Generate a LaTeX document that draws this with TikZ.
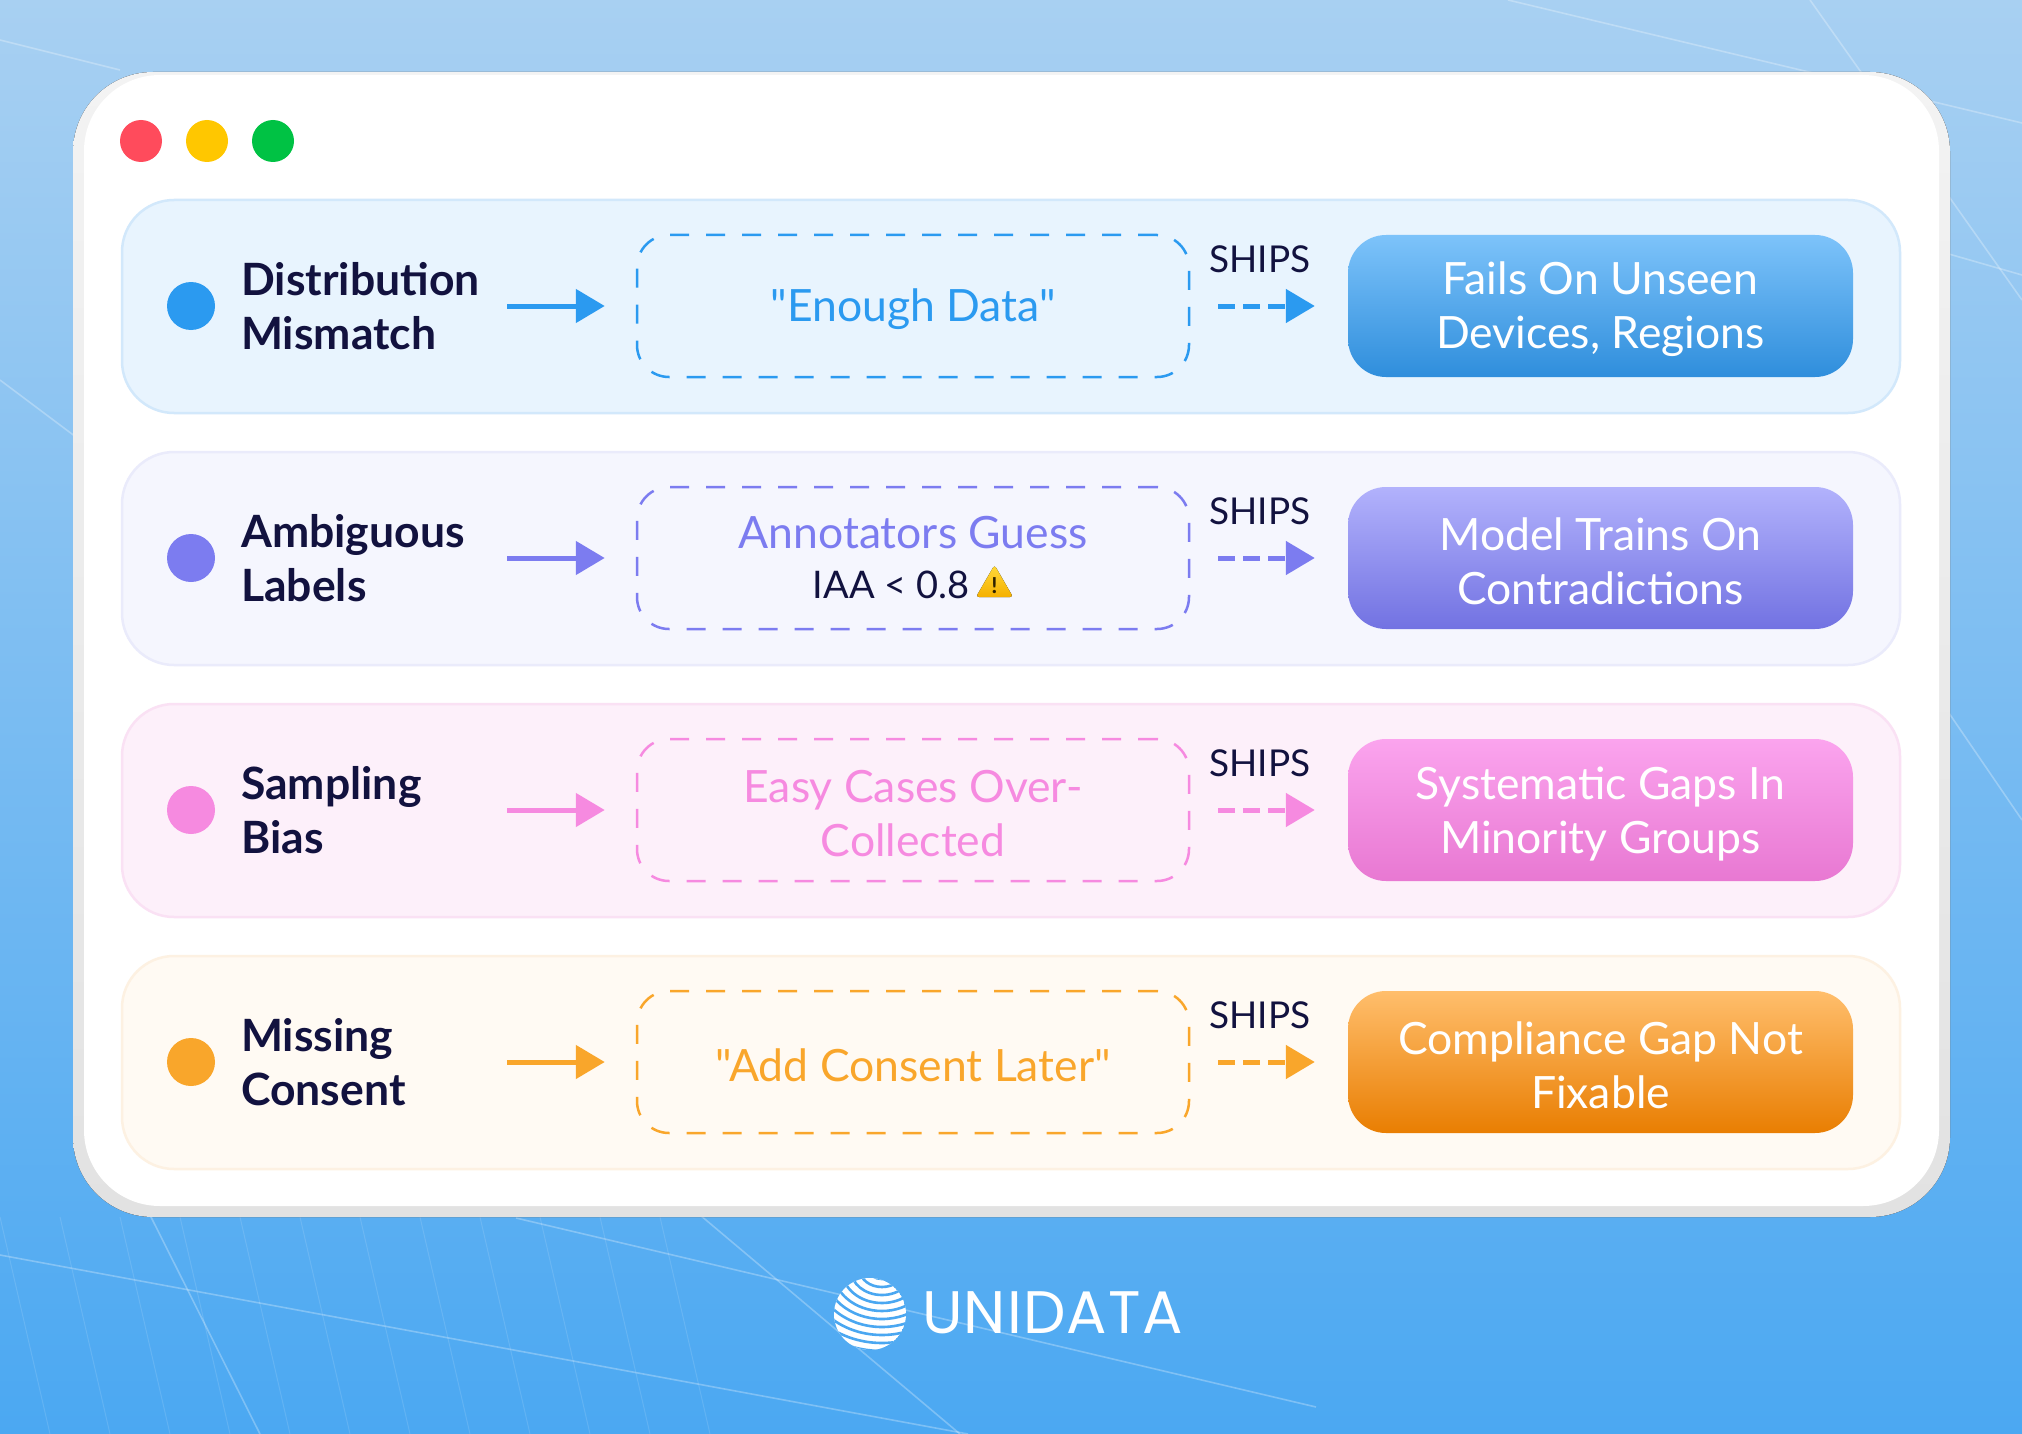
\documentclass[tikz,border=0pt]{standalone}
\usepackage{fontspec}
\setmainfont{Lato}[Ligatures=TeXOff]
\newfontfamily\logofont{Poppins}[LetterSpace=2]
\usetikzlibrary{arrows.meta}
\newcommand\boxstrut{\rule{0pt}{40pt}}
\definecolor{navy}{HTML}{12123F}
\definecolor{cblue}{HTML}{2B9AF0}
\definecolor{cpurple}{HTML}{7C7CF0}
\definecolor{cpink}{HTML}{F68AE0}
\definecolor{corange}{HTML}{F9A62B}
\definecolor{p1fill}{HTML}{E8F4FE}
\definecolor{p1line}{HTML}{D2E8FB}
\definecolor{p2fill}{HTML}{F5F6FE}
\definecolor{p2line}{HTML}{EAEBFB}
\definecolor{p3fill}{HTML}{FDF0FA}
\definecolor{p3line}{HTML}{FAE1F4}
\definecolor{p4fill}{HTML}{FFFAF3}
\definecolor{p4line}{HTML}{FDF1E2}
\definecolor{r1top}{HTML}{7DC3FA}
\definecolor{r1bot}{HTML}{2F8EDC}
\definecolor{r2top}{HTML}{B2B2FC}
\definecolor{r2bot}{HTML}{7272E2}
\definecolor{r3top}{HTML}{FBA4EE}
\definecolor{r3bot}{HTML}{E878D2}
\definecolor{r4top}{HTML}{FFBE6C}
\definecolor{r4bot}{HTML}{E97E02}
\definecolor{bgtop}{HTML}{A8D0F2}
\definecolor{bgbot}{HTML}{4BA8F2}
\definecolor{bglogo}{HTML}{4AA7F1}
\definecolor{rimtop}{HTML}{F3F3F3}
\definecolor{rimbot}{HTML}{E2E2E2}
\definecolor{dred}{HTML}{FF4B5C}
\definecolor{dyellow}{HTML}{FFC700}
\definecolor{dgreen}{HTML}{00C244}
\definecolor{warnT}{HTML}{FFD93B}
\definecolor{warnB}{HTML}{F5B000}
\definecolor{warnX}{HTML}{2E2200}
\begin{document}
\begin{tikzpicture}[x=1pt,y=-1pt,
 panel/.style={rounded corners=52pt, line width=2.5pt, minimum width=1778pt, minimum height=213pt, inner sep=0pt},
 bullet/.style={circle, minimum size=48pt, inner sep=0pt},
 dot/.style={circle, minimum size=42pt, inner sep=0pt},
 lbl/.style={anchor=west, align=left, inner sep=0pt, text=navy, font=\fontsize{44.5}{54}\selectfont\bfseries},
 midbox/.style={rounded corners=32pt, line width=2.5pt, dash pattern=on 19pt off 17pt, minimum width=552pt, minimum height=142pt, align=center, inner sep=0pt, font=\fontsize{44.5}{54}\selectfont},
 outbox/.style={rounded corners=38pt, minimum width=505pt, minimum height=142pt, align=center, inner sep=0pt, text=white, font=\fontsize{44.5}{54}\selectfont},
 ships/.style={text=navy, font=\fontsize{37}{37}\selectfont, inner sep=0pt},
 flow/.style={line width=5pt, -{Triangle[length=29pt,width=33pt]}, shorten >=31pt},
 ship/.style={line width=5pt, dash pattern=on 17pt off 8pt, -{Triangle[length=29pt,width=33pt]}, shorten <=28pt, shorten >=33pt},
 bgline/.style={white, opacity=0.28, line width=1.6pt},
]
\useasboundingbox (0,0) rectangle (2022,1434);
% background
\fill[top color=bgtop, bottom color=bgbot] (0,0) rectangle (2022,1434);
\begin{scope}[bgline]
 \draw (0,1255) -- (968,1434);
 \draw (516,1218) -- (1316,1407);
 \draw (1508,0) -- (2022,123);
 \draw (1810,0) -- (2022,300);
 \draw (1900,240) -- (2022,275);
 \draw (0,380) -- (80,440);
 \draw (0,40) -- (120,70);
 \draw (1940,700) -- (2022,820);
 \draw (150,1215) -- (260,1434);
 \draw (700,1215) -- (960,1434);
\end{scope}
\begin{scope}[white, opacity=0.12, line width=1pt]
 \foreach \s in {0,60,...,660} { \draw (\s,1217) -- (\s+50,1434); }
\end{scope}
% window
\fill[top color=rimtop, bottom color=rimbot, rounded corners=80pt] (73,72) rectangle (1950,1217);
\fill[white, rounded corners=76pt] (84,75) rectangle (1939,1206);
\node[dot, fill=dred] (d1) at (141,141) {};
\node[dot, fill=dyellow] (d2) at (207,141) {};
\node[dot, fill=dgreen] (d3) at (273,141) {};
% row 1
\node[panel, fill=p1fill, draw=p1line] (p1) at (1011,306.5) {};
\node[bullet, fill=cblue] (b1) at (191,306) {};
\node[lbl] (l1) at (241,306) {Distribution\\Mismatch};
\node[midbox, draw=cblue, text=cblue] (m1) at (913,306) {\boxstrut"Enough Data"};
\node[outbox, top color=r1top, bottom color=r1bot] (r1) at (1600.5,306) {\boxstrut Fails On Unseen\\Devices, Regions};
\coordinate (a1) at (507,306);
\draw[flow, cblue] (a1) -- (m1.west);
\draw[ship, cblue] (m1.east) -- (r1.west);
\node[ships] (s1) at (1260,259) {SHIPS};
% row 2
\node[panel, fill=p2fill, draw=p2line] (p2) at (1011,558.5) {};
\node[bullet, fill=cpurple] (b2) at (191,558) {};
\node[lbl] (l2) at (241,558) {Ambiguous\\Labels};
\node[midbox, draw=cpurple, text=cpurple] (m2) at (913,558) {Annotators Guess\\[-4pt]{\color{navy}\fontsize{38}{54}\selectfont IAA < 0.8\hspace*{44pt}}};
\node[outbox, top color=r2top, bottom color=r2bot] (r2) at (1600.5,558) {\boxstrut Model Trains On\\Contradictions};
\coordinate (a2) at (507,558);
\draw[flow, cpurple] (a2) -- (m2.west);
\draw[ship, cpurple] (m2.east) -- (r2.west);
\node[ships] (s2) at (1260,511) {SHIPS};
\fill[rounded corners=3pt, top color=warnT, bottom color=warnB] (976,597) -- (1013,597) -- (994.5,565) -- cycle;
\node[text=warnX, font=\fontsize{22}{22}\selectfont\bfseries, inner sep=0pt] (warn) at (994.5,586) {!};
% row 3
\node[panel, fill=p3fill, draw=p3line] (p3) at (1011,810.5) {};
\node[bullet, fill=cpink] (b3) at (191,810) {};
\node[lbl] (l3) at (241,810) {Sampling\\Bias};
\node[midbox, draw=cpink, text=cpink] (m3) at (913,810) {\boxstrut Easy Cases Over-\\Collected};
\node[outbox, top color=r3top, bottom color=r3bot] (r3) at (1600.5,810) {\boxstrut Systematic Gaps In\\Minority Groups};
\coordinate (a3) at (507,810);
\draw[flow, cpink] (a3) -- (m3.west);
\draw[ship, cpink] (m3.east) -- (r3.west);
\node[ships] (s3) at (1260,763) {SHIPS};
% row 4
\node[panel, fill=p4fill, draw=p4line] (p4) at (1011,1062.5) {};
\node[bullet, fill=corange] (b4) at (191,1062) {};
\node[lbl] (l4) at (241,1062) {Missing\\Consent};
\node[midbox, draw=corange, text=corange] (m4) at (913,1062) {\boxstrut"Add Consent Later"};
\node[outbox, top color=r4top, bottom color=r4bot] (r4) at (1600.5,1062) {\boxstrut Compliance Gap Not\\Fixable};
\coordinate (a4) at (507,1062);
\draw[flow, corange] (a4) -- (m4.west);
\draw[ship, corange] (m4.east) -- (r4.west);
\node[ships] (s4) at (1260,1015) {SHIPS};
% logo
\begin{scope}
 \clip (870,1314) circle (36);
 \fill[white] (870,1314) circle (36);
 \foreach \k in {1,...,10} { \draw[line width=2.6pt, bglogo] (882,1270) ellipse ({9*\k+4} and {8*\k+1}); }
\end{scope}
\node[text=white, font=\logofont\fontsize{60}{60}\selectfont, anchor=west, inner sep=0pt] (logo) at (922,1313) {UNIDATA};
\end{tikzpicture}
\end{document}
